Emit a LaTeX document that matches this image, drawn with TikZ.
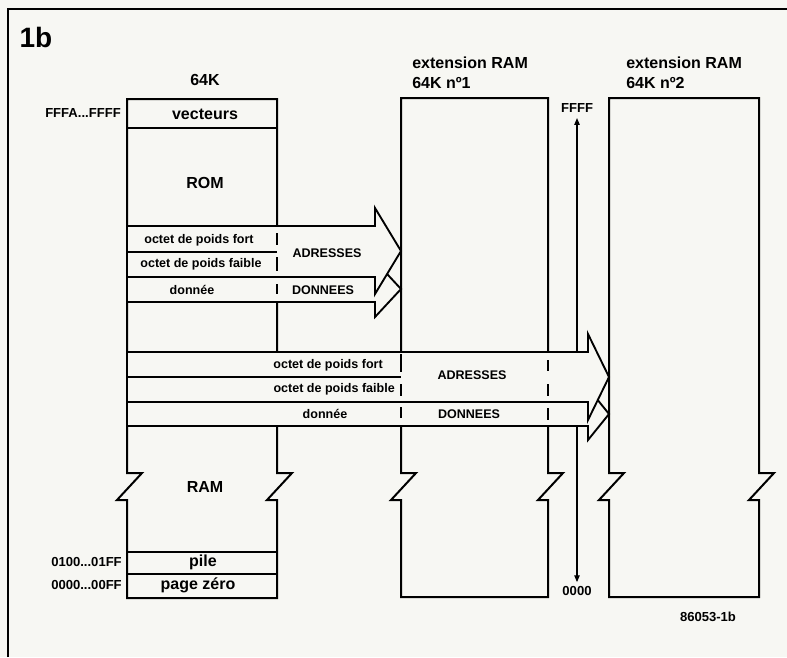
\documentclass[tikz,border=0pt]{standalone}
\usepackage{fontspec}
\setmainfont{Liberation Sans}
\usetikzlibrary{arrows.meta}
\definecolor{paper}{RGB}{247,247,243}
\newcommand\memorybox[4]{\draw[box] (#1,473) -- (#1,#3) -- (#2,#3) -- (#2,473) -- (#2+15,473) -- (#2-10,500) -- (#2,500) -- (#2,#4) -- (#1,#4) -- (#1,500) -- (#1-10,500) -- (#1+15,473) -- cycle;}
\begin{document}
\begin{tikzpicture}[x=0.75pt,y=-0.75pt,
  box/.style={line width=1.5pt, line join=miter},
  sepline/.style={line width=1pt},
  bus/.style={fill=paper, draw=black, line width=1.4pt, line join=miter},
  dashmark/.style={line width=1.6pt},
  big/.style={font=\bfseries\fontsize{12}{14}\selectfont, inner sep=0pt},
  mid/.style={font=\bfseries\fontsize{9.8}{12}\selectfont, inner sep=0pt},
  small/.style={font=\bfseries\fontsize{9.4}{11}\selectfont, inner sep=0pt}]
\useasboundingbox (0,0) rectangle (787,657);
\fill[paper] (0,0) rectangle (787,657);
% frame
\draw[line width=1.2pt] (8,657) -- (8,9) -- (787,9);
\node[font=\bfseries\fontsize{21}{24}\selectfont, inner sep=0pt] (fig) at (36,37) {1b};
% memory boxes
\memorybox{127}{277}{99}{598}
\memorybox{401}{548}{98}{597}
\memorybox{609}{759}{98}{597}
\draw[sepline] (127,128) -- (277,128);
\draw[sepline] (127,552) -- (277,552);
\draw[sepline] (127,574) -- (277,574);
% address range arrow
\node[mid] (ffff) at (577,108) {FFFF};
\node[mid] (zero) at (577,591) {0000};
\coordinate (at1) at ([yshift=-4pt]ffff.south);
\coordinate (at2) at ([yshift=3pt]zero.north);
\draw[line width=0.8pt, {Triangle[length=5pt,width=4pt]}-{Triangle[length=5pt,width=4pt]}] (at1) -- (at2);
% bus 1
\draw[bus] (127,277) -- (375,277) -- (375,261) -- (401,289) -- (375,317) -- (375,302) -- (127,302) -- cycle;
\draw[bus] (127,226) -- (375,226) -- (375,208) -- (401,251) -- (375,294) -- (375,277) -- (127,277) -- cycle;
\draw[sepline] (127,252) -- (277,252);
\draw[dashmark] (277,233) -- (277,245) (277,257) -- (277,271) (277,284) -- (277,294);
\draw[box] (401,200) -- (401,322);
% bus 2
\draw[bus] (127,402) -- (588,402) -- (588,388) -- (609,414) -- (588,440) -- (588,426) -- (127,426) -- cycle;
\draw[bus] (127,352) -- (588,352) -- (588,334) -- (609,377) -- (588,420) -- (588,402) -- (127,402) -- cycle;
\draw[sepline] (127,377) -- (401,377);
\draw[dashmark] (401,354) -- (401,372) (401,384) -- (401,396) (401,407) -- (401,418);
\draw[dashmark] (548,360) -- (548,371) (548,384) -- (548,396) (548,408) -- (548,420);
\draw[box] (609,325) -- (609,450);
% main box texts
\node[big] (k64) at (205,80) {64K};
\node[big] (vec) at (205,114) {vecteurs};
\node[big] (rom) at (205,183) {ROM};
\node[big] (ram) at (205,487) {RAM};
\node[big] (pile) at (203,562) {pile};
\node[big] (pz) at (198,585) {page zéro};
\node[mid, anchor=east] (a1) at (121,113) {FFFA...FFFF};
\node[mid, anchor=east] (a2) at (122,562) {0100...01FF};
\node[mid, anchor=east] (a3) at (122,585) {0000...00FF};
% extension labels
\node[big, anchor=west] (e1a) at (412,63) {extension RAM};
\node[big, anchor=west] (e1b) at (412,83) {64K nº1};
\node[big, anchor=west] (e2a) at (626,63) {extension RAM};
\node[big, anchor=west] (e2b) at (626,83) {64K nº2};
% bus 1 texts
\node[small] (b1f) at (199,240) {octet de poids fort};
\node[small] (b1w) at (201,264) {octet de poids faible};
\node[small] (b1d) at (192,290) {donnée};
\node[small] (b1a) at (327,253) {ADRESSES};
\node[small] (b1n) at (323,290) {DONNEES};
% bus 2 texts
\node[small, anchor=east] (b2f) at (383,365) {octet de poids fort};
\node[small, anchor=east] (b2w) at (395,389) {octet de poids faible};
\node[small] (b2d) at (325,414) {donnée};
\node[small] (b2a) at (472,375) {ADRESSES};
\node[small] (b2n) at (469,414) {DONNEES};
% figure code
\node[mid] (code) at (708,617) {86053-1b};
\end{tikzpicture}
\end{document}
